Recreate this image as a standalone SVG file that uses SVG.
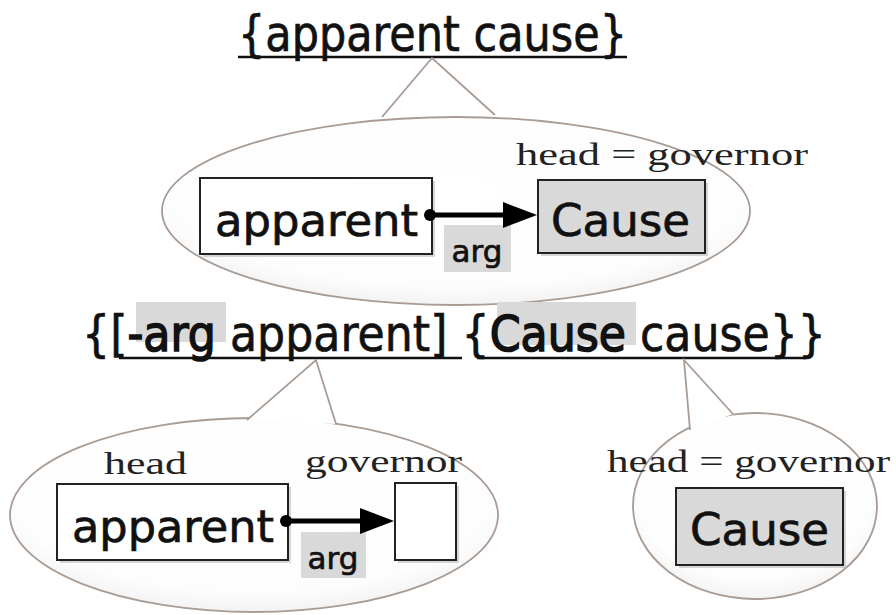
<svg xmlns="http://www.w3.org/2000/svg" width="896" height="615" viewBox="0 0 896 615">
  <defs>
    <radialGradient id="bubbleFill" cx="50%" cy="40%" r="62%">
      <stop offset="0%" stop-color="#ffffff"/>
      <stop offset="80%" stop-color="#fdfdfd"/>
      <stop offset="100%" stop-color="#f1f1f1"/>
    </radialGradient>
  </defs>
  <style>
    .sans { font-family: "DejaVu Sans", "Liberation Sans", sans-serif; fill: #111; stroke: #111; stroke-width: 0.7; }
    .heavy { stroke-width: 1.6; }
    .serif { font-family: "Liberation Serif", "DejaVu Serif", serif; fill: #222; }
    .bubble { fill: url(#bubbleFill); stroke: #a89c94; stroke-width: 1.8; }
    .tail { fill: none; stroke: #a89c94; stroke-width: 1.8; }
    .box { fill: #fff; stroke: #222; stroke-width: 2; }
    .boxGray { fill: #d9d9d9; stroke: #222; stroke-width: 2; }
    .shadow { fill: #9a9a9a; opacity: 0.4; }
    .hl { fill: #d9d9d9; }
    .uline { stroke: #111; stroke-width: 2.5; }
    .edge { stroke: #000; stroke-width: 5; fill: none; }
  </style>

  <rect width="896" height="615" fill="#fff"/>

  <!-- top phrase -->
  <g id="phrase-top">
    <text class="sans" x="238" y="51" font-size="49" textLength="389" lengthAdjust="spacingAndGlyphs">{apparent cause}</text>
    <line class="uline" x1="238" y1="57" x2="627" y2="57"/>
  </g>

  <!-- bubble 1 -->
  <g id="bubble-top">
    <ellipse class="bubble" cx="456" cy="211" rx="294" ry="94"/>
    <path d="M382,117 L432,58 L495,115" fill="#fff" stroke="none"/>
    <path class="tail" d="M382,117 L432,58 L495,115"/>
    <text class="serif" x="516" y="165" font-size="32" textLength="292" lengthAdjust="spacingAndGlyphs">head = governor</text>
  </g>

  <g id="node-apparent-1">
    <rect class="shadow" x="203" y="181" width="232" height="76"/>
    <rect class="box" x="200" y="178" width="232" height="76"/>
    <text class="sans" x="215" y="236" font-size="44" textLength="203" lengthAdjust="spacingAndGlyphs">apparent</text>
  </g>
  <g id="node-cause-1">
    <rect class="shadow" x="541" y="183" width="167" height="73"/>
    <rect class="boxGray" x="538" y="180" width="167" height="73"/>
    <text class="sans" x="551" y="236" font-size="44" textLength="139" lengthAdjust="spacingAndGlyphs">Cause</text>
  </g>

  <!-- bottom phrase -->
  <g id="phrase-bottom">
    <rect class="hl" x="136" y="302" width="90" height="40"/>
    <rect class="hl" x="497" y="302" width="139" height="43"/>
    <text class="sans" x="82" y="351" font-size="49" textLength="744" lengthAdjust="spacingAndGlyphs">{[<tspan class="heavy">-arg</tspan> apparent] {<tspan class="heavy">Cause</tspan> cause}}</text>
    <line class="uline" x1="119" y1="358" x2="462" y2="358"/>
    <line class="uline" x1="477" y1="358" x2="806" y2="358"/>
  </g>

  <!-- bubble 2 -->
  <g id="bubble-left">
    <ellipse class="bubble" cx="254" cy="515" rx="244" ry="97"/>
    <path d="M247,420 L316,360 L336,424" fill="#fff" stroke="none"/>
    <path class="tail" d="M247,420 L316,360 L336,424"/>
    <text class="serif" x="104" y="474" font-size="32" textLength="83" lengthAdjust="spacingAndGlyphs">head</text>
    <text class="serif" x="305" y="472" font-size="32" textLength="157" lengthAdjust="spacingAndGlyphs">governor</text>
  </g>
  <g id="node-apparent-2">
    <rect class="shadow" x="60" y="487" width="231" height="76"/>
    <rect class="box" x="57" y="484" width="231" height="76"/>
    <text class="sans" x="72" y="542" font-size="44" textLength="202" lengthAdjust="spacingAndGlyphs">apparent</text>
  </g>
  <g id="node-empty">
    <rect class="shadow" x="398" y="486" width="61" height="77"/>
    <rect class="box" x="395" y="483" width="61" height="77"/>
  </g>

  <!-- bubble 3 -->
  <g id="bubble-right">
    <ellipse class="bubble" cx="755" cy="506" rx="122" ry="93"/>
    <path d="M690,430 L684,360 L733,414" fill="#fff" stroke="none"/>
    <path class="tail" d="M690,430 L684,360 L733,414"/>
    <text class="serif" x="607" y="472" font-size="32" textLength="283" lengthAdjust="spacingAndGlyphs">head = governor</text>
  </g>
  <g id="node-cause-2">
    <rect class="shadow" x="679" y="491" width="167" height="77"/>
    <rect class="boxGray" x="676" y="488" width="167" height="77"/>
    <text class="sans" x="690" y="545" font-size="44" textLength="139" lengthAdjust="spacingAndGlyphs">Cause</text>
  </g>

  <!-- connectors -->
  <g id="connectors">
    <rect class="hl" x="444" y="225" width="67" height="47"/>
    <text class="sans" x="477" y="262" font-size="31" text-anchor="middle">arg</text>
    <circle cx="430" cy="215" r="6" fill="#000"/>
    <path d="M430,215 L503,215" class="edge"/>
    <path d="M503,202 L537,215 L503,228 Z" fill="#000"/>

    <rect class="hl" x="301" y="532" width="65" height="46"/>
    <text class="sans" x="333" y="569" font-size="31" text-anchor="middle">arg</text>
    <circle cx="286" cy="521" r="6" fill="#000"/>
    <path d="M286,521 L360,521" class="edge"/>
    <path d="M360,508 L394,521 L360,534 Z" fill="#000"/>
  </g>
</svg>
